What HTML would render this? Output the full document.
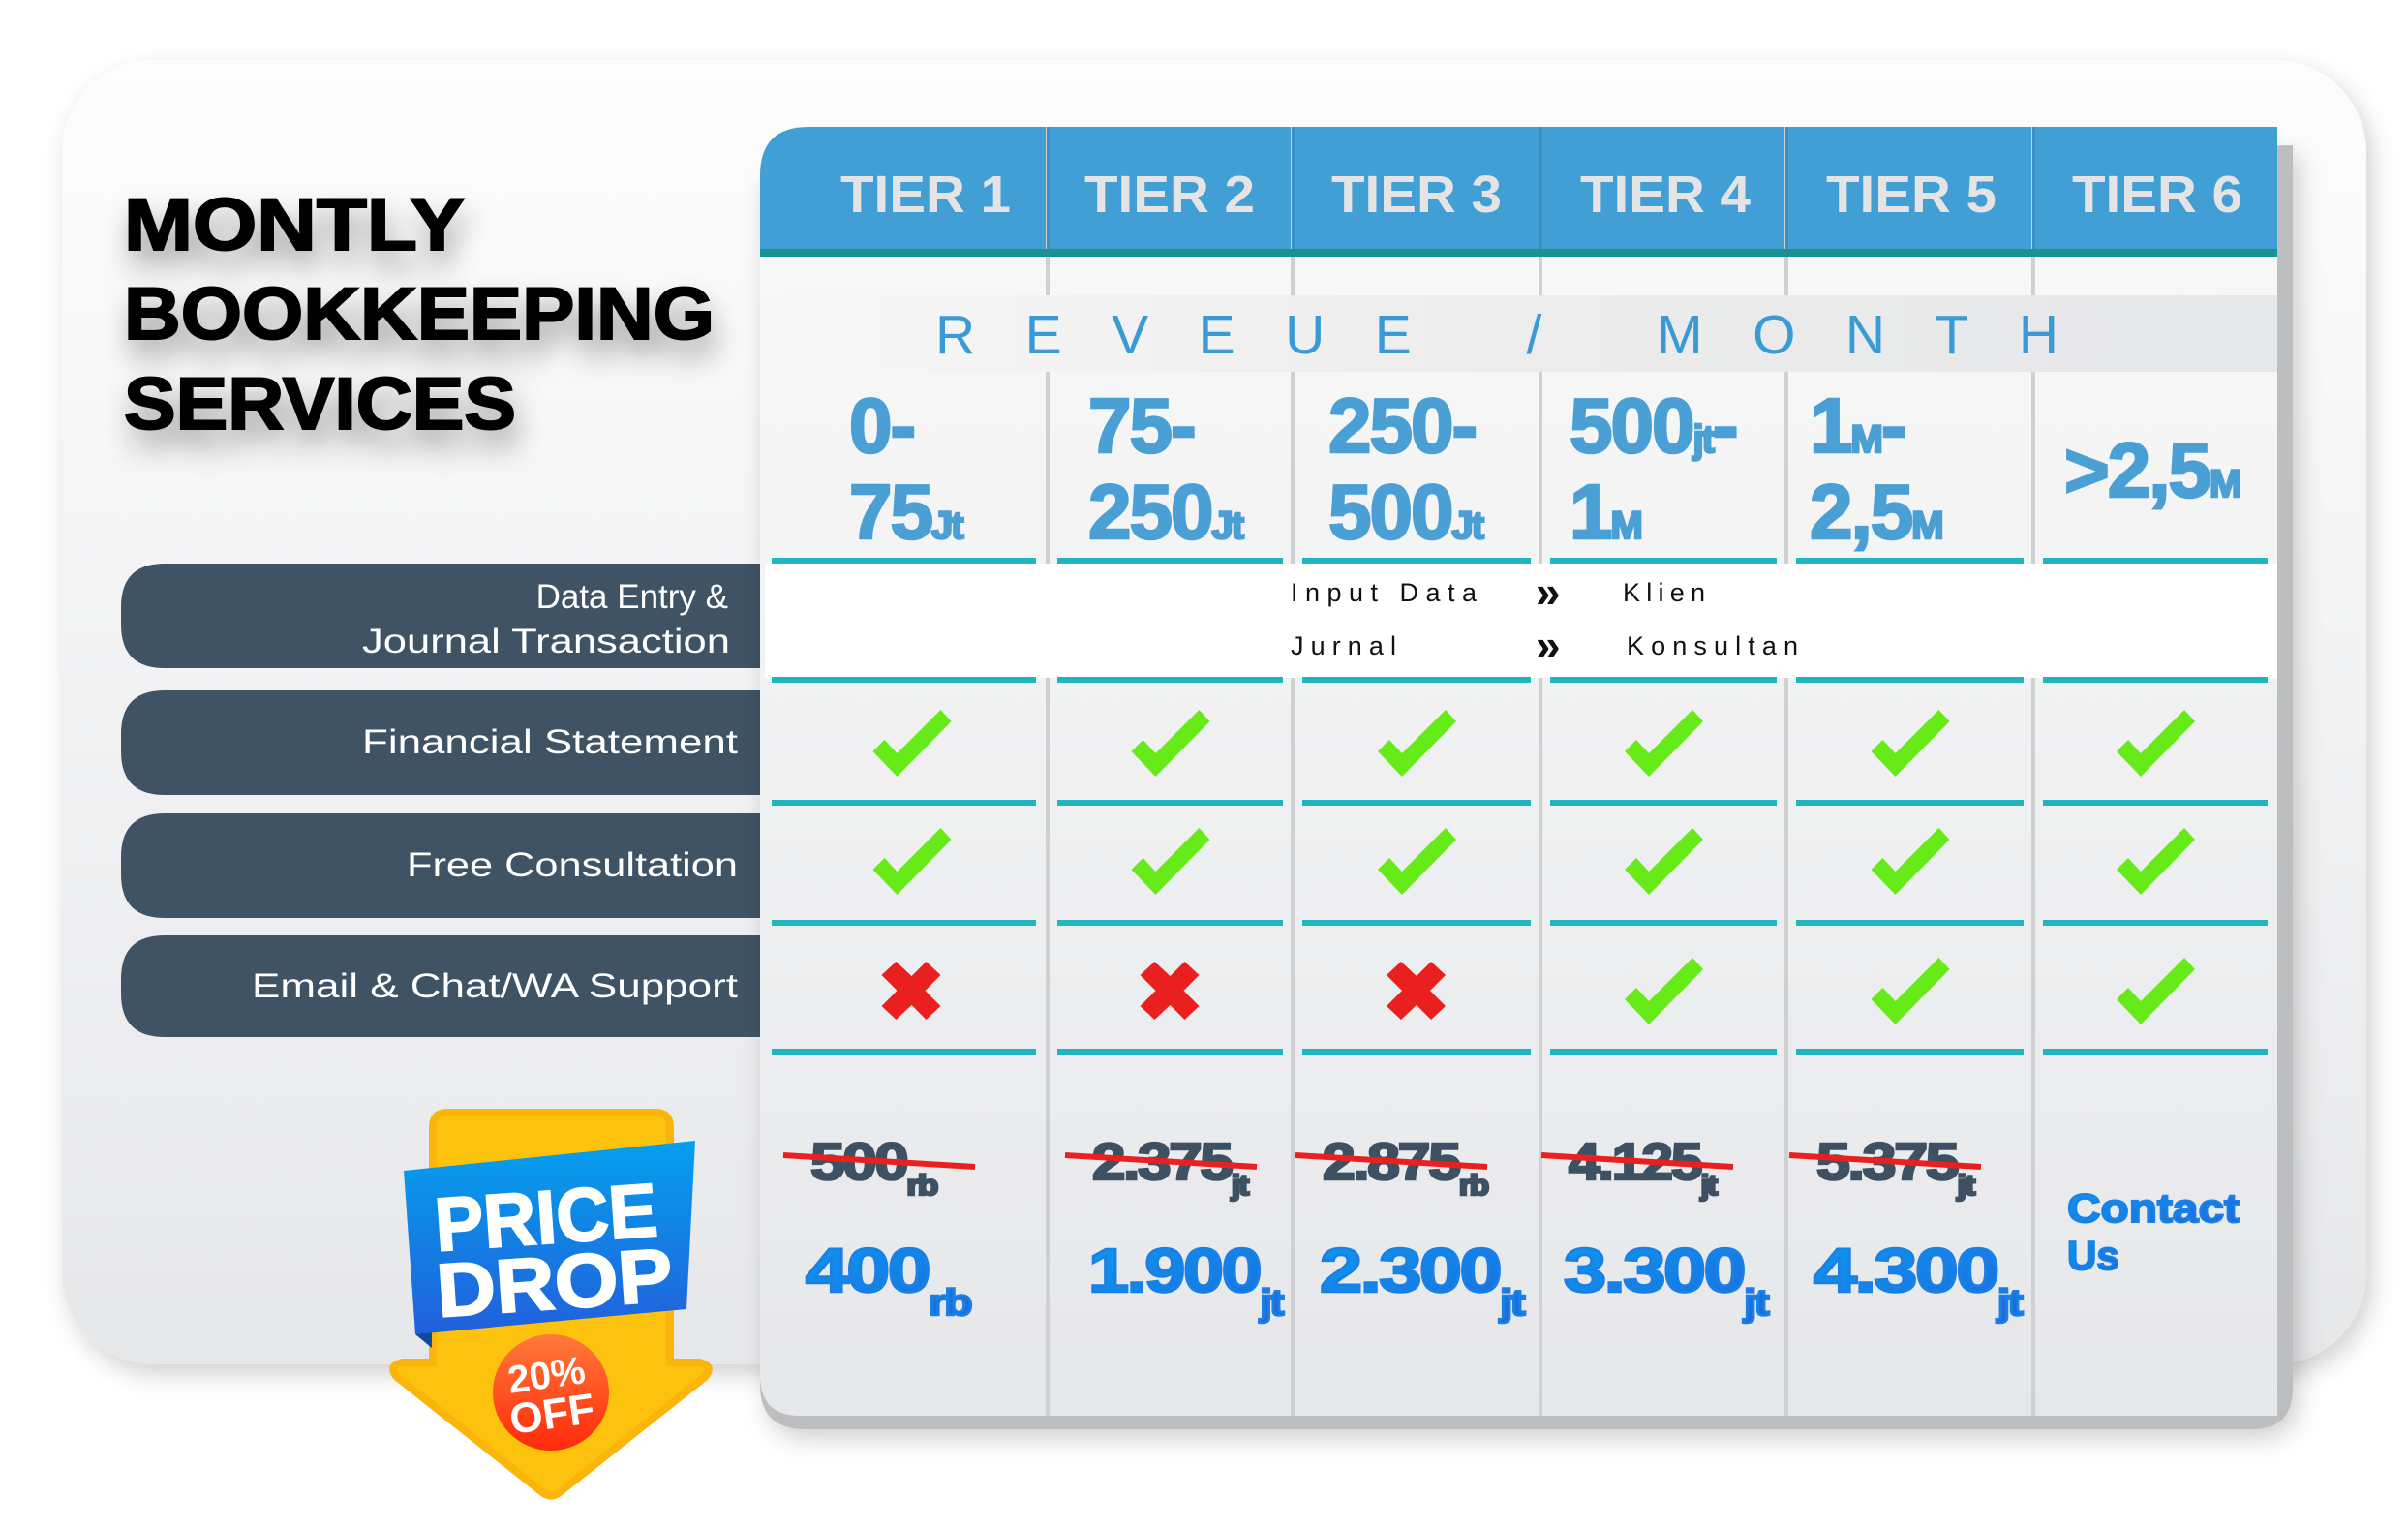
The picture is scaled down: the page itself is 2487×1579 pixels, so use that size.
<!DOCTYPE html>
<html><head><meta charset="utf-8"><style>
html,body{margin:0;padding:0;background:#fff;}
svg{display:block;}
text{font-family:"Liberation Sans",sans-serif;}
</style></head><body>
<svg id="chart" width="2487" height="1579" viewBox="0 0 2487 1579" xmlns="http://www.w3.org/2000/svg">
<defs>
<linearGradient id="cardGrad" x1="0" y1="0" x2="0" y2="1"><stop offset="0" stop-color="#fdfdfd"/><stop offset="1" stop-color="#e6e7e9"/></linearGradient>
<linearGradient id="colGrad" x1="0" y1="0" x2="0" y2="1"><stop offset="0" stop-color="#f8f8f8"/><stop offset="1" stop-color="#e6e7e9"/></linearGradient>
<linearGradient id="bandGrad" x1="0" y1="0" x2="1" y2="0"><stop offset="0" stop-color="#f7f7f7"/><stop offset="0.5" stop-color="#ececec"/><stop offset="1" stop-color="#e6e7e9"/></linearGradient>
<linearGradient id="blueTxt" x1="0" y1="0" x2="1" y2="1"><stop offset="0" stop-color="#0b9af0"/><stop offset="1" stop-color="#1e66dc"/></linearGradient>
<linearGradient id="bannerGrad" x1="0" y1="0" x2="0" y2="1"><stop offset="0" stop-color="#05a0ec"/><stop offset="1" stop-color="#2160dc"/></linearGradient>
<linearGradient id="circGrad" x1="0" y1="0" x2="0" y2="1"><stop offset="0" stop-color="#ff7a3a"/><stop offset="1" stop-color="#ff2a0a"/></linearGradient>
<filter id="shadow" x="-10%" y="-10%" width="130%" height="130%"><feDropShadow dx="6" dy="10" stdDeviation="12" flood-color="#000" flood-opacity="0.18"/></filter>
<filter id="titleShadow" x="-10%" y="-30%" width="130%" height="180%"><feDropShadow dx="4" dy="18" stdDeviation="14" flood-color="#000" flood-opacity="0.35"/></filter>
</defs>

<rect x="64" y="62" width="2380" height="1347" rx="95" fill="url(#cardGrad)" filter="url(#shadow)"/>

<g filter="url(#titleShadow)" font-weight="900" fill="#000" font-size="76" stroke="#000" stroke-width="2">
<text x="128" y="258" textLength="352" lengthAdjust="spacingAndGlyphs">MONTLY</text>
<text x="128" y="350" textLength="610" lengthAdjust="spacingAndGlyphs">BOOKKEEPING</text>
<text x="128" y="443" textLength="405" lengthAdjust="spacingAndGlyphs">SERVICES</text>
</g>

<g fill="#fff" font-size="35" text-anchor="end">
<path d="M785 582 H170 Q125 582 125 627 V645 Q125 690 170 690 H785 Z" fill="#3f5365"/>
<text x="752" y="628">Data Entry &amp;</text>
<text x="754" y="674" textLength="380" lengthAdjust="spacingAndGlyphs">Journal Transaction</text>
<path d="M785 713 H170 Q125 713 125 758 V776 Q125 821 170 821 H785 Z" fill="#3f5365"/>
<text x="762" y="778" textLength="388" lengthAdjust="spacingAndGlyphs">Financial Statement</text>
<path d="M785 840 H170 Q125 840 125 885 V903 Q125 948 170 948 H785 Z" fill="#3f5365"/>
<text x="762" y="905" textLength="342" lengthAdjust="spacingAndGlyphs">Free Consultation</text>
<path d="M785 966 H170 Q125 966 125 1011 V1026 Q125 1071 170 1071 H785 Z" fill="#3f5365"/>
<text x="762" y="1030" textLength="502" lengthAdjust="spacingAndGlyphs">Email &amp; Chat/WA Support</text>
</g>

<g id="table">
<path d="M785 180 V1430 Q785 1476 831 1476 H2326 Q2368 1476 2368 1434 V150 Z" fill="#bdbebf" filter="url(#shadow)"/>
<path d="M785 250 V1420 Q785 1462 826 1462 H2352 V250 Z" fill="url(#colGrad)"/>
<path d="M835 131 H2352 V265 H785 V181 Q785 131 835 131 Z" fill="#419fd5"/>
<g id="seps"></g>
<rect x="785" y="257" width="1567" height="8" fill="#1a9292"/>
<rect x="790" y="305" width="1562" height="79" fill="url(#bandGrad)"/>
<rect x="790" y="582" width="1562" height="118" fill="#fff"/>
<text x="966" y="365" font-size="57" fill="#3a9ad6" textLength="1160" lengthAdjust="spacing">REVEUE / MONTH</text>
<g font-size="27" fill="#111" letter-spacing="5">
<text x="1333" y="621" textLength="197" lengthAdjust="spacing">Input Data</text>
<text x="1586" y="627" font-size="46" font-weight="bold" letter-spacing="0">»</text>
<text x="1676" y="621" textLength="90" lengthAdjust="spacing">Klien</text>
<text x="1333" y="676" textLength="114" lengthAdjust="spacing">Jurnal</text>
<text x="1586" y="682" font-size="46" font-weight="bold" letter-spacing="0">»</text>
<text x="1680" y="676" textLength="182" lengthAdjust="spacing">Konsultan</text>
</g>
<g id="dyn"></g>
</g>

<g>
<path d="M462 1149 H677 Q692 1149 692 1164 V1407 H722 Q738 1410 728 1422 L578 1541 Q569 1548 560 1541 L410 1422 Q400 1410 416 1407 H447 V1164 Q447 1149 462 1149 Z" fill="#fdc20e" stroke="#fbb40a" stroke-width="8"/>
<path d="M429 1378 L446 1392 L446 1370 Z" fill="#0d4a9a"/>
<path d="M417 1209 L718 1178 L709 1352 L429 1378 Z" fill="url(#bannerGrad)"/>
<g transform="rotate(-4 565 1300)" fill="#fff" font-weight="bold" stroke="#fff" stroke-width="2">
<text x="452" y="1284" font-size="78" textLength="230" lengthAdjust="spacingAndGlyphs">PRICE</text>
<text x="449" y="1352" font-size="78" textLength="244" lengthAdjust="spacingAndGlyphs">DROP</text>
</g>
<circle cx="569" cy="1438" r="60" fill="url(#circGrad)"/>
<g transform="rotate(-8 569 1438)" fill="#fff" font-weight="900" text-anchor="middle">
<text x="567" y="1433" font-size="40">20%</text>
<text x="567" y="1475" font-size="44">OFF</text>
</g>
</g>
</svg>
<script>
const tiers = ['TIER 1','TIER 2','TIER 3','TIER 4','TIER 5','TIER 6'];
const rangeLine1 = ['0-','75-','250-','500|jt|-','1|M|-',''];
const rangeLine2 = ['75|Jt','250|Jt','500|Jt','1|M','2,5|M',''];
const rangeSingle = ['','','','','','>2,5|M'];
const financial = [1,1,1,1,1,1];
const consultation = [1,1,1,1,1,1];
const support = [0,0,0,1,1,1];
const oldPrice = ['500','2.375','2.875','4.125','5.375',''];
const oldUnit = ['rb','jt','rb','jt','jt',''];
const newPrice = ['400','1.900','2.300','3.300','4.300',''];
const newUnit = ['rb','jt','jt','jt','jt',''];

const NS='http://www.w3.org/2000/svg';
const dyn=document.getElementById('dyn');
const seps=document.getElementById('seps');
const colX=[785,1082,1335,1591,1845,2100,2352];
const headCx=[956,1208,1463,1720,1974,2228];
const textLeft=[877,1124,1372,1621,1869,2132];
function mk(tag,attrs,parent){const e=document.createElementNS(NS,tag);for(const k in attrs)e.setAttribute(k,attrs[k]);(parent||dyn).appendChild(e);return e;}
function richText(str,x,y,size,sub,fill,parent,subDy,stroke){
  const t=mk('text',{x:x,y:y,'font-size':size,'font-weight':'bold',fill:fill,'letter-spacing':-2},parent);
  if(stroke){t.setAttribute('stroke',stroke);t.setAttribute('stroke-width',2.5);}
  str.split('|').forEach((p,i)=>{const s=mk('tspan',{},t);s.textContent=p;
    if(i%2===1){s.setAttribute('font-size',sub);if(subDy){s.setAttribute('dy',subDy);}}
    else if(i>0&&subDy){s.setAttribute('dy',-subDy);}});
  return t;
}
for(let i=1;i<6;i++){
  const l=mk('rect',{x:colX[i]-2,y:131,width:4,height:1331,fill:'#cfd0d2'},seps);
  
  
  const h=mk('rect',{x:colX[i]-1,y:131,width:3,height:126,fill:'#3a8fc4'},seps);
  
  
}
const checkPts='-40,9 -28,-3 -15,11 30,-34 41,-22 -15,35';
const crossPts='-31,-16 -16,-30 0,-15 15,-30 30,-16 14,0 30,16 15,30 0,15 -16,30 -31,16 -15,0';
const rowsY=[767,889,1023];
const rowsData=[financial,consultation,support];
const rowNames=['financial','consultation','support'];
const lineY=[576,699,826,950,1083];
const oldX=[837,1128,1366,1620,1876], oldW=[130,160,170,152,162];
const newX=[832,1124,1363,1615,1873], newW=[170,200,210,210,214];
tiers.forEach((tn,i)=>{
  const cx=(colX[i]+colX[i+1])/2+(i===0?8:0);
  const h=mk('text',{x:headCx[i],y:219,'font-size':54,'font-weight':'bold',fill:'#e4e4e4','text-anchor':'middle',textLength:176,lengthAdjust:'spacingAndGlyphs'});
  h.textContent=tn;
  
  
  lineY.forEach(y=>{
    const u=mk('rect',{x:colX[i]+(i===0?12:10),y:y,width:colX[i+1]-colX[i]-(i===0?24:20),height:6,fill:'#20b5bf'});
    
    
  });
  if(rangeLine1[i]){
    const a=richText(rangeLine1[i],textLeft[i],467,80,40,'#4a9fd4',null,0,'#4a9fd4');
    
    
    const b=richText(rangeLine2[i],textLeft[i],556,80,40,'#4a9fd4',null,0,'#4a9fd4');
    
    
  } else {
    const c=richText(rangeSingle[i],textLeft[i],513,80,40,'#4a9fd4',null,0,'#4a9fd4');
    
    
  }
  rowsData.forEach((arr,r)=>{
    const ok=arr[i]===1;
    const p=mk('polygon',{points:ok?checkPts:crossPts,fill:ok?'#66ea18':'#ea2020',transform:'translate('+cx+','+rowsY[r]+')'});
    
    
  });
  if(oldPrice[i]){
    const o=richText(oldPrice[i]+'|'+oldUnit[i],oldX[i],1218,54,30,'#3d5163',null,16,'#3d5163');
    o.setAttribute('textLength',oldW[i]);
    o.setAttribute('lengthAdjust','spacingAndGlyphs');
    
    
    const s=mk('line',{x1:oldX[i]-28,y1:1193,x2:oldX[i]+170,y2:1205,stroke:'#ea2020','stroke-width':6});
    
    
    const n=richText(newPrice[i]+'|'+newUnit[i],newX[i],1334,64,38,'url(#blueTxt)',null,24,'#1a80e6');
    n.setAttribute('textLength',newW[i]);
    n.setAttribute('lengthAdjust','spacingAndGlyphs');
    
    
  } else {
    const c1=mk('text',{x:2135,y:1262,'font-size':42,'font-weight':'900',fill:'url(#blueTxt)',stroke:'#1a80e6','stroke-width':2,textLength:178,lengthAdjust:'spacingAndGlyphs'});
    c1.textContent='Contact';
    
    
    const c2=mk('text',{x:2135,y:1311,'font-size':42,'font-weight':'900',fill:'url(#blueTxt)',stroke:'#1a80e6','stroke-width':2});
    c2.textContent='Us';
    
    
  }
});
</script>
</body></html>
